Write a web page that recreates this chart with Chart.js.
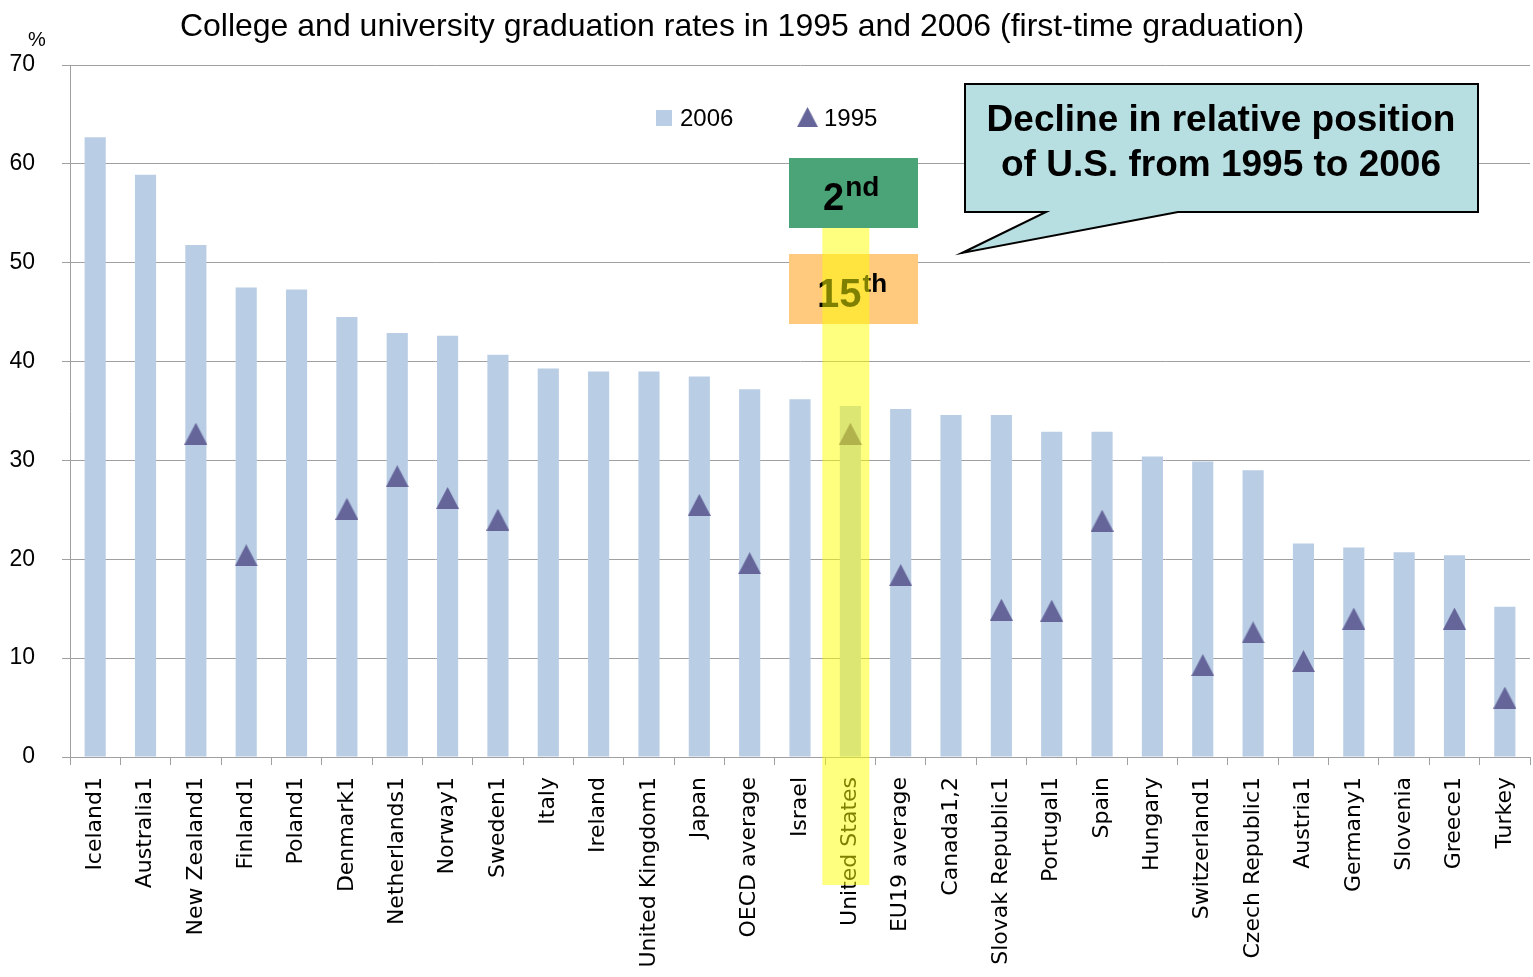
<!DOCTYPE html>
<html>
<head>
<meta charset="utf-8">
<script src="https://cdn.jsdelivr.net/npm/chart.js@4.4.1/dist/chart.umd.min.js"></script>
<style>
html,body{margin:0;padding:0;background:#fff;}
#wrap{width:1533px;height:977px;position:relative;}
</style>
</head>
<body>
<div id="wrap"><canvas id="c"></canvas></div>
<script>
const categories = ["Iceland1","Australia1","New Zealand1","Finland1","Poland1","Denmark1","Netherlands1","Norway1","Sweden1","Italy","Ireland","United Kingdom1","Japan","OECD average","Israel","United States","EU19 average","Canada1,2","Slovak Republic1","Portugal1","Spain","Hungary","Switzerland1","Czech Republic1","Austria1","Germany1","Slovenia","Greece1","Turkey"];
const rates2006 = [62.7, 58.9, 51.8, 47.5, 47.3, 44.5, 42.9, 42.6, 40.7, 39.3, 39.0, 39.0, 38.5, 37.2, 36.2, 35.5, 35.2, 34.6, 34.6, 32.9, 32.9, 30.4, 29.9, 29.0, 21.6, 21.2, 20.7, 20.4, 15.2];
const rates1995 = [null, null, 32.7, 20.4, null, 25.1, 28.4, 26.2, 24.0, null, null, null, 25.5, 19.6, null, 32.7, 18.4, null, 14.9, 14.8, 23.9, null, 9.3, 12.6, 9.7, 14.0, null, 14.0, 6.0];
const yTicks = [0, 10, 20, 30, 40, 50, 60, 70];
const seriesNames = ["2006", "1995"];
const chartTitle = "College and university graduation rates in 1995 and 2006 (first-time graduation)";

const BAR_COLOR = '#B9CDE5';
const TRI_COLOR = '#65659A';
const GRID = '#A0A0A0';

function makeTriangle(w, h, color) {
  const c = document.createElement('canvas');
  c.width = w; c.height = h;
  const g = c.getContext('2d');
  g.fillStyle = color;
  g.beginPath();
  g.moveTo(w / 2, 0);
  g.lineTo(w, h);
  g.lineTo(0, h);
  g.closePath();
  g.fill();
  return c;
}
const tri = makeTriangle(23, 22, TRI_COLOR);

function drawSup(ctx, x, y, main, sup, mainFont, supFont, supRise, color) {
  ctx.fillStyle = color;
  ctx.textAlign = 'left';
  ctx.textBaseline = 'alphabetic';
  ctx.font = mainFont;
  ctx.fillText(main, x, y);
  const w = ctx.measureText(main).width;
  ctx.font = supFont;
  ctx.fillText(sup, x + w + 1, y - supRise);
}

const overlay = {
  id: 'overlay',
  afterDatasetsDraw(chart) {
    const ctx = chart.ctx;
    const xs = chart.scales.x;
    ctx.save();
    // "2nd" box
    ctx.fillStyle = '#4BA477';
    ctx.fillRect(789, 158, 129, 70);
    drawSup(ctx, 823, 210, '2', 'nd', 'bold 38px "Liberation Sans", Arial, sans-serif', 'bold 28px "Liberation Sans", Arial, sans-serif', 14, '#000');
    // "15th" box
    ctx.fillStyle = '#FFC97E';
    ctx.fillRect(789, 254, 129, 70);
    drawSup(ctx, 817, 307, '15', 'th', 'bold 40px "Liberation Sans", Arial, sans-serif', 'bold 26px "Liberation Sans", Arial, sans-serif', 15, '#000');
    // yellow highlight on United States
    const usIdx = categories.indexOf('United States');
    const cx = xs.getPixelForValue(usIdx);
    ctx.fillStyle = 'rgba(255,255,0,0.5)';
    ctx.fillRect(cx - 28, 228, 47, 657);
    // callout
    ctx.beginPath();
    ctx.moveTo(965, 84);
    ctx.lineTo(1478, 84);
    ctx.lineTo(1478, 212);
    ctx.lineTo(1178, 212);
    ctx.lineTo(962, 253);
    ctx.lineTo(1046, 212);
    ctx.lineTo(965, 212);
    ctx.closePath();
    ctx.fillStyle = '#B7DEE1';
    ctx.fill();
    ctx.lineWidth = 2;
    ctx.strokeStyle = '#000';
    ctx.stroke();
    ctx.fillStyle = '#000';
    ctx.font = 'bold 37px "Liberation Sans", Arial, sans-serif';
    ctx.textAlign = 'center';
    ctx.textBaseline = 'alphabetic';
    ctx.fillText('Decline in relative position', 1221, 131);
    ctx.fillText('of U.S. from 1995 to 2006', 1221, 176);
    ctx.restore();
  },
  afterDraw(chart) {
    const ctx = chart.ctx;
    ctx.save();
    ctx.fillStyle = '#000';
    ctx.textBaseline = 'alphabetic';
    ctx.textAlign = 'center';
    ctx.font = '32px "Liberation Sans", Arial, sans-serif';
    ctx.fillText(chartTitle, 742, 36);
    ctx.font = '20px "Liberation Sans", Arial, sans-serif';
    ctx.fillText('%', 37, 46);
    // legend
    ctx.textAlign = 'left';
    ctx.textBaseline = 'middle';
    ctx.font = '24px "Liberation Sans", Arial, sans-serif';
    ctx.fillStyle = chart.data.datasets[0].backgroundColor;
    ctx.fillRect(656, 110, 16, 16);
    ctx.fillStyle = '#000';
    ctx.fillText(chart.data.datasets[0].label, 680, 119);
    ctx.drawImage(tri, 797, 107, 21, 20);
    ctx.fillStyle = '#000';
    ctx.fillText(chart.data.datasets[1].label, 824, 119);
    ctx.restore();
  }
};

new Chart(document.getElementById('c'), {
  data: {
    labels: categories,
    datasets: [
      {
        type: 'bar',
        label: seriesNames[0],
        data: rates2006,
        backgroundColor: BAR_COLOR,
        borderWidth: 0,
        barPercentage: 0.42,
        categoryPercentage: 1.0,
        order: 2
      },
      {
        type: 'line',
        label: seriesNames[1],
        data: rates1995,
        showLine: false,
        pointStyle: tri,
        pointRadius: 12,
        pointHoverRadius: 12,
        backgroundColor: TRI_COLOR,
        borderColor: TRI_COLOR,
        order: 1
      }
    ]
  },
  options: {
    responsive: true,
    maintainAspectRatio: false,
    animation: false,
    layout: { autoPadding: false, padding: { top: 65, left: 0, right: 3, bottom: 0 } },
    plugins: {
      legend: { display: false },
      title: { display: false },
      tooltip: { enabled: false }
    },
    scales: {
      x: {
        offset: true,
        grid: { drawOnChartArea: false, drawTicks: true, tickLength: 8, color: GRID, offset: true },
        border: { color: GRID },
        ticks: {
          autoSkip: false,
          maxRotation: 90,
          minRotation: 90,
          padding: 12,
          color: '#000',
          font: { family: '"DejaVu Sans", sans-serif', size: 22 }
        },
        afterFit(s) { s.height = 220; s.paddingRight = 0; s.paddingLeft = 0; }
      },
      y: {
        min: yTicks[0],
        max: yTicks[yTicks.length - 1],
        afterBuildTicks(s) { s.ticks = yTicks.map(v => ({ value: v })); },
        grid: { color: GRID, tickLength: 8, drawTicks: true },
        border: { color: GRID },
        ticks: {
          padding: 27,
          color: '#000',
          font: { family: '"Liberation Sans", Arial, sans-serif', size: 23 }
        },
        afterFit(s) { s.width = 70; }
      }
    }
  },
  plugins: [overlay]
});
</script>
</body>
</html>
